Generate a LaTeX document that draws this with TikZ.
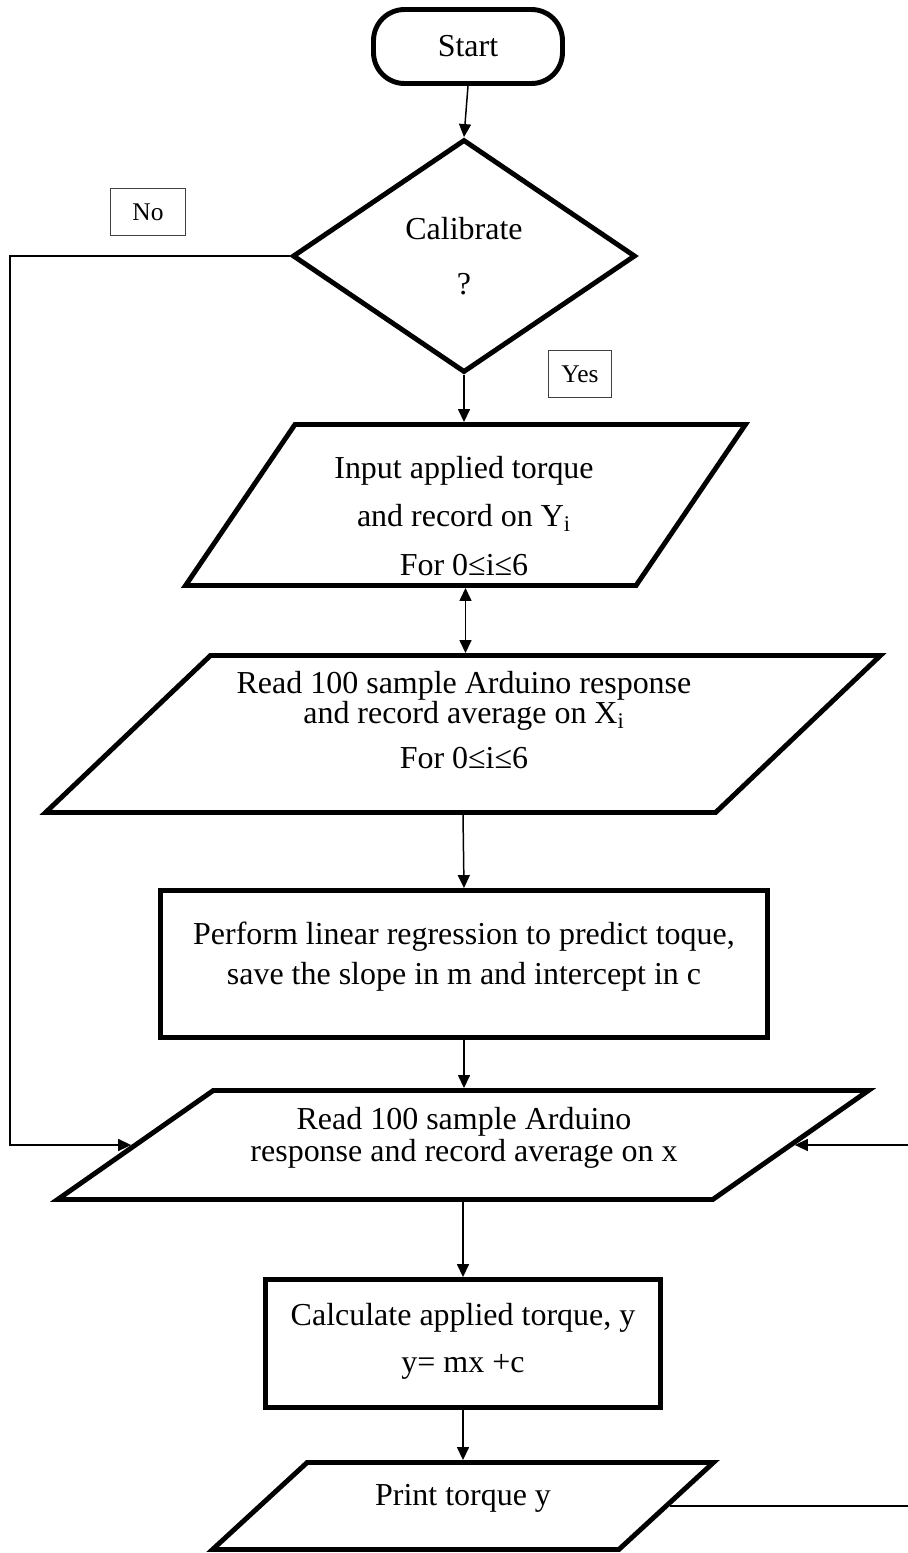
\documentclass[tikz,border=0pt]{standalone}
\usepackage{fontspec}
\setmainfont{Liberation Serif}
\usetikzlibrary{arrows.meta,shapes.geometric,calc}

\begin{document}
\begin{tikzpicture}[x=0.02cm, y=-0.02cm,
  font=\fontsize{18.2}{18.2}\selectfont,
  term/.style={draw, line width=2.8pt, rounded corners=0.62cm, minimum width=3.78cm, minimum height=1.48cm},
  decide/.style={diamond, draw, line width=2.8pt, minimum width=6.86cm, minimum height=4.66cm, inner sep=0pt, align=center},
  io/.style={trapezium, draw, line width=2.8pt, trapezium stretches body=true, inner xsep=2pt},
  proc/.style={rectangle, draw, line width=2.8pt, inner sep=0pt},
  tag/.style={draw=black!75, line width=0.7pt, inner sep=0pt, font=\fontsize{14.5}{14.5}\selectfont},
  txt/.style={align=center, inner sep=0pt},
  arr/.style={line width=0.85pt, -{Triangle[length=2.6mm,width=2.4mm]}},
  dbl/.style={line width=0.85pt, {Triangle[length=2.6mm,width=2.4mm]}-{Triangle[length=2.6mm,width=2.4mm]}},
]
\useasboundingbox (0,0) rectangle (908,1553);
% ---- shapes ----
\node[term] (start) at (468,46.5){Start};
\node[decide] (dec) at (464,256){Calibrate\\[13pt]?};
\node[io, trapezium left angle=55.8, trapezium right angle=124.2, minimum width=11.2cm, inner ysep=1.61cm] (input) at (465.5,505){};
\node[io, trapezium left angle=43.6, trapezium right angle=136.4, minimum width=16.7cm, inner ysep=1.57cm] (read) at (463,734){};
\node[proc, minimum width=12.14cm, minimum height=2.94cm] (regr) at (464,964){};
\node[io, trapezium left angle=35, trapezium right angle=145, minimum width=16.22cm, inner ysep=1.09cm] (readx) at (463,1145){};
\node[proc, minimum width=7.9cm, minimum height=2.56cm] (calc) at (463,1343.5){};
\node[io, trapezium left angle=42.6, trapezium right angle=137.4, minimum width=10.02cm, inner ysep=0.87cm] (print) at (463,1506){};
% ---- texts ----
\node[txt] (inputTxt) at (464,516){Input applied torque\\[9.6pt]and record on Y\textsubscript{i}\\[9.6pt]For 0≤i≤6};
\node[txt] (readTxt) at (464,720){Read 100 sample Arduino response\\[-1.2pt]and record average on X\textsubscript{i}\\[7.3pt]For 0≤i≤6};
\node[txt] (regrTxt) at (464,957){Perform linear regression to predict toque,\\[4.5pt]save the slope in m and intercept in c};
\node[txt] (readxTxt) at (464,1138){Read 100 sample Arduino\\response and record average on x};
\node[txt] (calcTxt) at (463,1341){Calculate applied torque, y\\[8.4pt]y= mx +c};
\node[txt] (printTxt) at (463,1498){Print torque y};
% ---- branch tags ----
\node[tag, minimum width=1.5cm, minimum height=0.94cm] (no) at (148,212){No};
\node[tag, minimum width=1.26cm, minimum height=0.94cm] (yes) at (580,374){Yes};
% ---- connectors ----
\coordinate (noTurn) at (10,0);
\coordinate (backTurn) at (914,0);
\draw[arr] (start.south) -- (dec.north);
\draw[arr] (dec.south) -- (dec.south |- input.north);
\draw[dbl] (input.south -| input.center) -- (read.north -| input.center);
\draw[arr] (read.south -| read.center) -- (regr.north);
\draw[arr] (regr.south) -- (regr.south |- readx.north);
\draw[arr] (readx.south -| readx.center) -- (calc.north);
\draw[arr] (calc.south) -- (calc.south |- print.north);
\draw[arr] (dec.west) -- (dec.west -| noTurn) |- (readx.west);
\draw[arr] (print.east) -- (print.east -| backTurn) |- (readx.east);
\end{tikzpicture}
\end{document}
